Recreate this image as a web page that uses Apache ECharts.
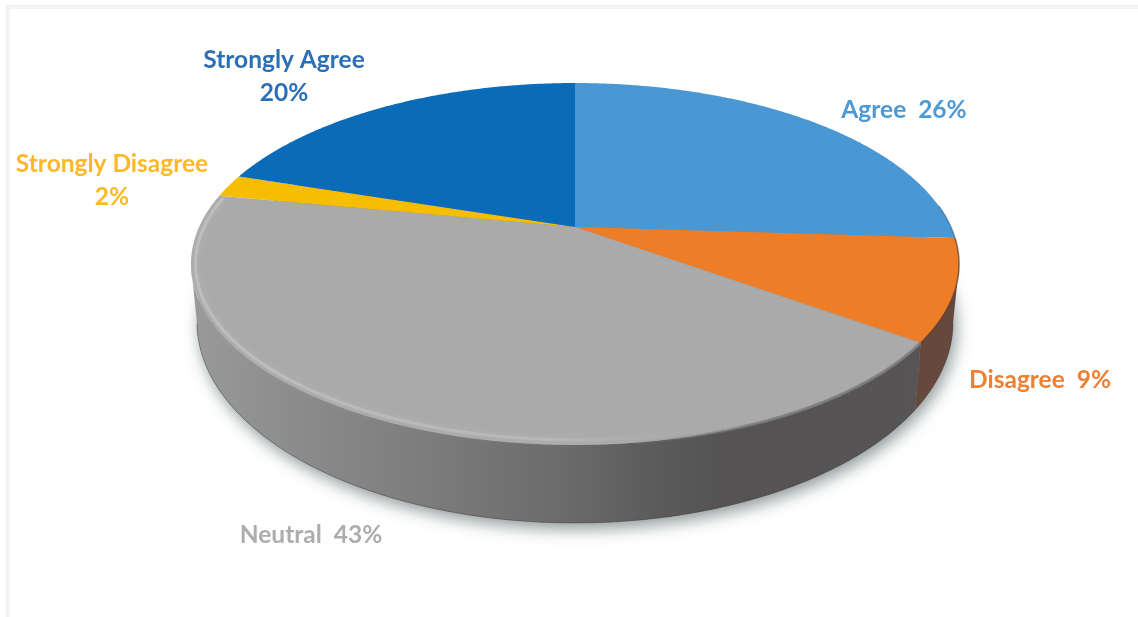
<!DOCTYPE html>
<html>
<head>
<meta charset="utf-8">
<style>
html,body{margin:0;padding:0;background:#fff;overflow:hidden}
#main{width:1138px;height:617px;filter:blur(0.7px)}
</style>
<script src="https://cdn.jsdelivr.net/npm/echarts@6/dist/echarts.min.js"></script>
</head>
<body>
<div id="main"></div>
<script>
const categories = ['Agree', 'Disagree', 'Neutral', 'Strongly Disagree', 'Strongly Agree'];
const percents = [26, 9, 43, 2, 20];
const sliceColors = ['#4a98d3', '#ed7d27', '#aaaaaa', '#f7bd02', '#0a6cb8'];
const labelColors = ['#4c9ad5', '#ef8033', '#abadaf', '#fcb827', '#2b70b6'];

// projection of the tilted disc
const APEX = {x: 575, y: 227};
const TOP = {cx: 575, cy: 264, rx: 384, ry: 181};
const BOTTOM = {cx: 575, cy: 322, rx: 378, ry: 201};
const PERSP = 0.2044, A = 375.9, B = 173.4;

// label anchors (centre of the text block)
const labelAnchor = [
  {x: 904, y: 110, split: false},
  {x: 1040, y: 380, split: false},
  {x: 311, y: 535, split: false},
  {x: 112, y: 181, split: true},
  {x: 284, y: 77, split: true}
];

const total = percents.reduce((a, b) => a + b, 0);
const starts = [];
percents.reduce((acc, v, i) => { starts[i] = acc; return acc + v; }, 0);

function onTop(pct) {
  const t = pct / total * Math.PI * 2;
  const u = Math.sin(t), v = Math.cos(t), d = 1 + PERSP * v;
  return [APEX.x + A * u / d, APEX.y - B * v / d];
}
function onBottom(p) {
  const c = (p[0] - TOP.cx) / TOP.rx, s = (p[1] - TOP.cy) / TOP.ry;
  return [BOTTOM.cx + BOTTOM.rx * c, BOTTOM.cy + BOTTOM.ry * s];
}
function arc(from, to) {
  const pts = [];
  const n = Math.max(2, Math.ceil((to - from) * 8));
  for (let i = 0; i <= n; i++) pts.push(onTop(from + (to - from) * i / n));
  return pts;
}
function lin(stops) {
  return {type: 'linear', x: 197, y: 0, x2: 912, y2: 0, global: true,
    colorStops: stops.map(s => ({offset: (s[0] - 197) / 715, color: s[1]}))};
}
const neutralSide = lin([[197, '#999999'], [300, '#8b8b8b'], [420, '#7d7d7d'], [570, '#6a6a6a'], [650, '#5c5c5c'], [720, '#555353'], [912, '#565454']]);
const disagreeSide = '#66483c';

function frontArc(i) {
  return arc(starts[i], starts[i] + percents[i]).filter(p => p[1] >= TOP.cy);
}

function renderShadow(params, api) {
  if (api.value(0) !== 0) return {type: 'group', children: []};
  const pts = [];
  for (let a = 0; a < 360; a += 2) {
    const r = a * Math.PI / 180;
    pts.push([BOTTOM.cx + BOTTOM.rx * Math.cos(r), BOTTOM.cy + BOTTOM.ry * Math.sin(r)]);
  }
  return {type: 'polygon', shape: {points: pts}, style: {
    fill: '#888', shadowBlur: 16, shadowColor: 'rgba(70,85,85,0.6)', shadowOffsetY: 6, shadowOffsetX: 3
  }};
}

function renderSide(params, api) {
  const i = api.value(0);
  if (i !== 1 && i !== 2) return {type: 'group', children: []};
  const t = frontArc(i);
  const b = t.map(onBottom);
  return {type: 'group', children: [
    {type: 'polygon', shape: {points: t.concat(b.slice().reverse())},
     style: {fill: i === 1 ? disagreeSide : neutralSide}},
    {type: 'polyline', shape: {points: b},
     style: {fill: 'none', stroke: 'rgba(60,55,55,0.45)', lineWidth: 1}}
  ]};
}

function renderTop(params, api) {
  const i = api.value(0);
  const pts = [[APEX.x, APEX.y]].concat(arc(starts[i], starts[i] + api.value(1)));
  return {type: 'polygon', shape: {points: pts}, style: {fill: sliceColors[i]}};
}

function renderRim(params, api) {
  const i = api.value(0);
  if (i === 2) {
    const edge = arc(starts[i], starts[i] + percents[i]);
    // bevel highlight along the neutral slice's outer edge
    const inset = edge.map(p => [
      TOP.cx + (p[0] - TOP.cx) * 0.988,
      TOP.cy + (p[1] - TOP.cy) * 0.972
    ]);
    return {type: 'group', children: [
      {type: 'polyline', shape: {points: edge}, style: {
        fill: 'none', lineWidth: 3,
        stroke: {type: 'linear', x: 190, y: 0, x2: 915, y2: 0, global: true, colorStops: [
          {offset: 0, color: 'rgba(120,120,120,0)'},
          {offset: 0.6, color: 'rgba(120,120,120,0)'},
          {offset: 0.8, color: 'rgba(125,125,125,0.85)'},
          {offset: 1, color: 'rgba(125,125,125,0.85)'}
        ]}
      }},
      {type: 'polyline', shape: {points: inset}, style: {
        fill: 'none', lineWidth: 3,
        stroke: {type: 'linear', x: 190, y: 0, x2: 915, y2: 0, global: true, colorStops: [
          {offset: 0, color: 'rgba(195,197,197,0.7)'},
          {offset: 0.5, color: 'rgba(190,190,190,0.6)'},
          {offset: 0.72, color: 'rgba(170,170,170,0)'},
          {offset: 1, color: 'rgba(170,170,170,0)'}
        ]},
        shadowBlur: 6, shadowColor: 'rgba(200,200,200,0.5)'
      }}
    ]};
  }
  if (i === 0 || i === 1) {
    const from = i === 0 ? starts[0] + 23 : starts[1];
    const to = starts[i] + percents[i];
    return {type: 'polyline', shape: {points: arc(from, to)}, style: {
      fill: 'none', lineWidth: 1.5,
      stroke: i === 0 ? 'rgba(40,90,130,0.55)' : 'rgba(90,60,45,0.7)'
    }};
  }
  return {type: 'group', children: []};
}

function renderLabel(params, api) {
  const i = api.value(0);
  const a = labelAnchor[i];
  const text = a.split
    ? categories[i] + '\n' + api.value(1) + '%'
    : categories[i] + '  ' + api.value(1) + '%';
  return {type: 'text', x: a.x, y: a.y, style: {
    text: text, fill: labelColors[i], align: 'center', verticalAlign: 'middle',
    font: 'bold 24.5px Lato, "Open Sans", sans-serif', lineHeight: 33
  }};
}

const rows = categories.map((c, i) => [i, percents[i], c]);
const layer = (render, z) => ({
  type: 'custom', coordinateSystem: 'none', renderItem: render, data: rows,
  silent: true, animation: false, z: z, clip: false
});

const chart = echarts.init(document.getElementById('main'), null, {renderer: 'canvas'});
chart.setOption({
  backgroundColor: '#ffffff',
  animation: false,
  graphic: [{
    type: 'polyline', z: 0, silent: true,
    shape: {points: [[7.5, 617], [7.5, 7], [1138, 7]]},
    style: {fill: 'none', stroke: '#f2f2f2', lineWidth: 4}
  }],
  series: [
    layer(renderShadow, 1),
    layer(renderSide, 2),
    layer(renderTop, 3),
    layer(renderRim, 4),
    layer(renderLabel, 5)
  ]
});
</script>
</body>
</html>
